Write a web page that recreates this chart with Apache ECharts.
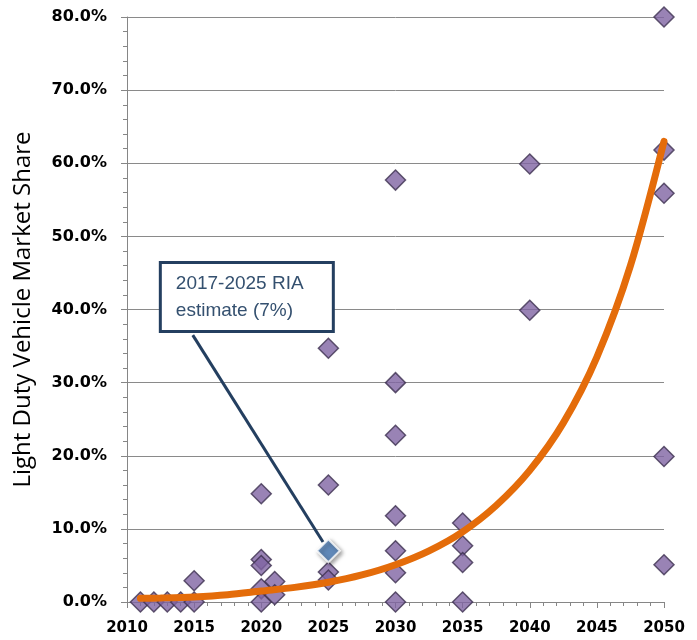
<!DOCTYPE html>
<html>
<head>
<meta charset="utf-8">
<script src="https://cdn.jsdelivr.net/npm/echarts@6/dist/echarts.min.js"></script>
<style>
  html, body { margin: 0; padding: 0; background: #fff; }
  #main { width: 697px; height: 640px; }
</style>
</head>
<body>
<div id="main"></div>
<script>
  // study estimates: year and market share (%)
  var studyYears = [2011, 2012, 2013, 2014, 2015, 2015,
    2020, 2020, 2020, 2020, 2020, 2021, 2021,
    2025, 2025, 2025, 2025,
    2030, 2030, 2030, 2030, 2030, 2030, 2030,
    2035, 2035, 2035, 2035,
    2040, 2040,
    2050, 2050, 2050, 2050, 2050]
  var studyShares = [0, 0, 0, 0, 0, 2.9,
    14.8, 5.8, 5.0, 1.8, 0, 2.8, 1.0,
    34.7, 16.0, 4.1, 3.0,
    57.7, 30.0, 22.8, 11.8, 7.0, 4.0, 0,
    10.8, 7.7, 5.4, 0,
    59.9, 39.9,
    80.0, 61.8, 55.9, 19.9, 5.1]

  // orange trend curve
  var trendYears = [2011, 2012.5, 2015, 2017.5, 2020, 2022.5, 2025, 2027.5, 2030, 2032.5,
    2035, 2037.5, 2040, 2042.5, 2045, 2047.5, 2050]
  var trendShares = [0.5, 0.55, 0.7, 1.0, 1.5, 2.0, 2.7, 3.7, 5.1, 7.0,
    9.6, 13.2, 18.0, 24.5, 33.5, 46.0, 63.0]

  // RIA estimate point
  var riaYear = 2025
  var riaShare = 7.0
  var riaLabel = ['2017-2025 RIA', 'estimate (7%)']

  var zip = function (xs, ys) {
    return xs.map(function (x, i) { return [x, ys[i]] })
  }

  var chart = echarts.init(document.getElementById('main'))
  chart.setOption({
    animation: false,
    grid: { left: 127, right: 33, top: 17, bottom: 38, outerBoundsMode: 'none' },
    xAxis: {
      type: 'value',
      min: 2010,
      max: 2050,
      interval: 5,
      axisLine: { lineStyle: { color: '#868686', width: 1 } },
      axisTick: { length: 6, lineStyle: { color: '#868686' } },
      minorTick: { show: true, splitNumber: 5, length: 4, lineStyle: { color: '#868686' } },
      splitLine: { show: false },
      axisLabel: {
        margin: 19,
        color: '#000',
        fontFamily: 'DejaVu Sans',
        fontWeight: 'bold',
        fontSize: 15,
        formatter: function (v) { return String(v) }
      }
    },
    yAxis: {
      type: 'value',
      min: 0,
      max: 80,
      interval: 10,
      name: 'Light Duty Vehicle Market Share',
      nameLocation: 'middle',
      nameRotate: 90,
      nameGap: 92,
      nameTextStyle: { color: '#000', fontFamily: 'Open Sans', fontSize: 24 },
      axisLine: { show: true, lineStyle: { color: '#868686', width: 1 } },
      axisTick: { show: true, length: 6, lineStyle: { color: '#868686' } },
      minorTick: { show: true, splitNumber: 5, length: 4, lineStyle: { color: '#868686' } },
      splitLine: { show: true, lineStyle: { color: '#8a8a8a', width: 1 } },
      axisLabel: {
        margin: 20,
        color: '#000',
        fontFamily: 'DejaVu Sans',
        fontWeight: 'bold',
        fontSize: 16,
        formatter: function (v) { return v.toFixed(1) + '%' }
      }
    },
    series: [
      {
        name: 'Studies',
        type: 'scatter',
        z: 2,
        symbol: 'diamond',
        symbolSize: 20,
        itemStyle: { color: '#8064A2', borderColor: '#3d3150', borderWidth: 1.5 },
        data: zip(studyYears, studyShares)
      },
      {
        name: 'Trend',
        type: 'line',
        z: 3,
        smooth: 0.3,
        showSymbol: false,
        lineStyle: { color: '#E46C0A', width: 7, cap: 'round' },
        data: zip(trendYears, trendShares)
      },
      {
        name: 'RIA',
        type: 'scatter',
        z: 4,
        symbol: 'diamond',
        symbolSize: 23,
        itemStyle: {
          color: '#4F81BD',
          borderColor: '#fff',
          borderWidth: 2,
          shadowBlur: 4,
          shadowColor: 'rgba(0,0,0,0.45)',
          shadowOffsetX: 2,
          shadowOffsetY: 2
        },
        data: [[riaYear, riaShare]],
        markLine: {
          silent: true,
          symbol: 'none',
          lineStyle: { color: '#243F60', width: 3, type: 'solid' },
          label: { show: false },
          data: [[{ coord: [2024.6, 8.2] }, { coord: [2014.9, 36.5] }]]
        },
        markPoint: {
          silent: true,
          symbol: 'rect',
          symbolSize: 0,
          label: {
            show: true,
            position: 'inside',
            offset: [-86, 0],
            color: '#34506F',
            fontFamily: 'Liberation Sans',
            fontSize: 19,
            lineHeight: 27,
            width: 144,
            align: 'left',
            padding: [6, 12, 6, 14],
            backgroundColor: '#fff',
            borderColor: '#243F60',
            borderWidth: 3,
            formatter: riaLabel.join('\n')
          },
          data: [{ coord: [2019.0, 41.7] }]
        }
      }
    ]
  })
</script>
</body>
</html>
